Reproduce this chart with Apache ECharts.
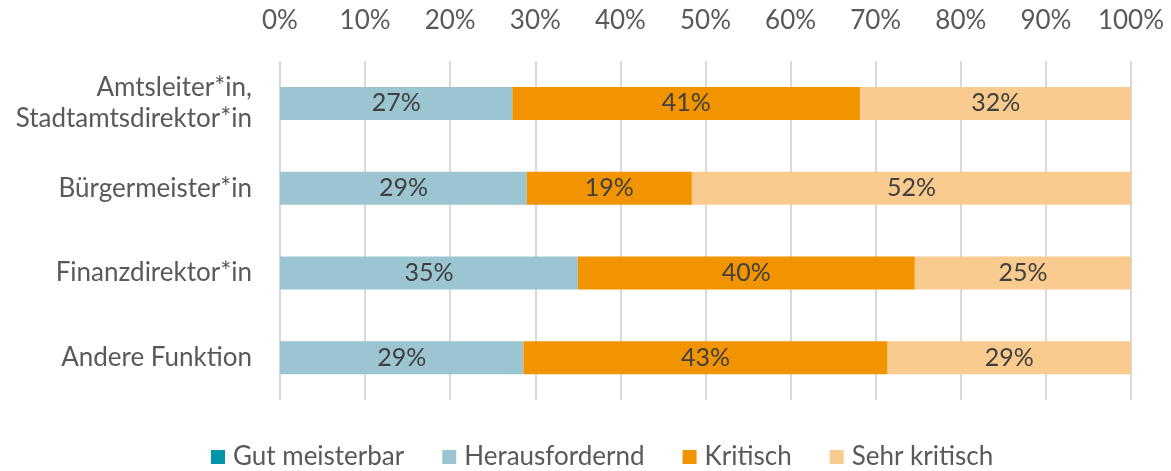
<!DOCTYPE html>
<html>
<head>
<meta charset="utf-8">
<script src="https://cdn.jsdelivr.net/npm/echarts@6/dist/echarts.min.js"></script>
<style>
  html, body { margin: 0; padding: 0; background: #fff; }
  #chart { width: 1171px; height: 471px; }
</style>
</head>
<body>
<div id="chart"></div>
<script>
// categories, top to bottom
const categories = [
    "Amtsleiter*in,\nStadtamtsdirektor*in",
    "Bürgermeister*in",
    "Finanzdirektor*in",
    "Andere Funktion"
];

// shares in percent
const gutMeisterbar = [0, 0, 0, 0];
const herausfordernd = [27.3, 29.0, 35.0, 28.6];
const kritisch = [40.9, 19.4, 39.6, 42.8];
const sehrKritisch = [31.8, 51.6, 25.4, 28.6];

const seriesNames = ["Gut meisterbar", "Herausfordernd", "Kritisch", "Sehr kritisch"];
const seriesColors = ["#0095A9", "#9CC5D2", "#F29400", "#FACB8E"];
const seriesData = [gutMeisterbar, herausfordernd, kritisch, sehrKritisch];

const font = "Lato";
const textColor = "#595959";

const chart = echarts.init(document.getElementById("chart"));

const series = seriesData.map((values, i) => ({
    name: seriesNames[i],
    type: "bar",
    stack: "total",
    barWidth: 33,
    data: values,
    itemStyle: { color: seriesColors[i] },
    label: {
        show: i > 0,
        position: "inside",
        color: "#404040",
        fontFamily: font,
        fontSize: 25,
        formatter: (p) => Math.round(p.value) + "%"
    },
    emphasis: { disabled: true }
}));

const option = {
    animation: false,
    textStyle: { fontFamily: font },
    grid: { left: 280, right: 40, top: 61, bottom: 71 },
    xAxis: {
        type: "value",
        position: "top",
        min: 0,
        max: 100,
        interval: 10,
        axisLine: { show: false },
        axisTick: { show: false },
        axisLabel: {
            formatter: "{value}%",
            color: textColor,
            fontFamily: font,
            fontSize: 26,
            margin: 27
        },
        splitLine: { lineStyle: { color: "#D9D9D9", width: 2 } }
    },
    yAxis: {
        type: "category",
        inverse: true,
        data: categories,
        axisLine: { show: false },
        axisTick: { show: false },
        axisLabel: {
            color: textColor,
            fontFamily: font,
            fontSize: 26,
            lineHeight: 31,
            margin: 28,
            align: "right"
        }
    },
    legend: {
        bottom: -4,
        left: 206,
        itemWidth: 14,
        itemHeight: 14,
        itemGap: 38,
        icon: "rect",
        data: seriesNames,
        textStyle: { color: textColor, fontFamily: font, fontSize: 26, padding: [0, 0, 0, 3] }
    },
    series: series
};

chart.setOption(option);
</script>
</body>
</html>
